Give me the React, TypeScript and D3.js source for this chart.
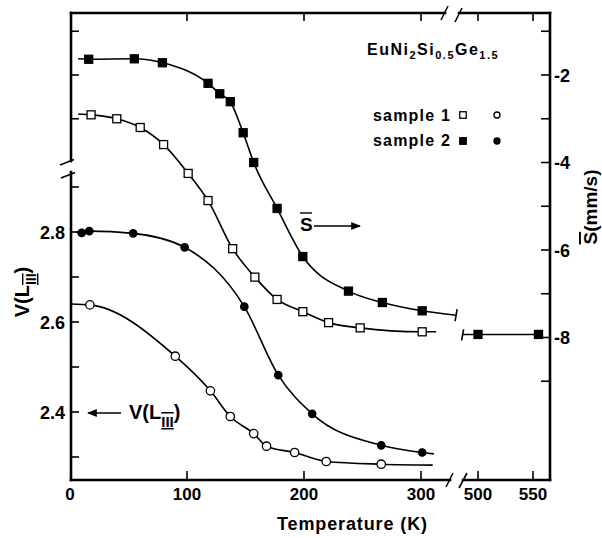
import * as d3 from 'd3';

const W = 602;
const H = 538;
const FONT = '"Liberation Sans", Arial, Helvetica, sans-serif';

// axis ticks and labels
const tempTicksLow = [0, 100, 200, 300];
const tempTicksHigh = [500, 550];
const vTicks = [2.3, 2.4, 2.5, 2.6, 2.7, 2.8, 2.9];
const vLabels = [2.4, 2.6, 2.8];
const sTicks = [-1, -2, -3, -4, -5, -6, -7, -8, -9];
const sLabels = [-2, -4, -6, -8];
const sTicksLeftUpper = [-1, -2, -3];

// sample 2, isomer shift S (filled squares)
const s2STemp = [16, 55, 79, 118, 128, 137, 148, 157, 177, 199, 238, 267, 301];
const s2SVal = [-1.64, -1.63, -1.72, -2.19, -2.43, -2.61, -3.32, -4.0, -5.05, -6.15, -6.94, -7.2, -7.39];
const s2STempHigh = [500, 555];
const s2SValHigh = [-7.93, -7.93];

// sample 1, isomer shift S (open squares)
const s1STemp = [18, 40, 60, 80, 101, 118, 139, 158, 177, 199, 221, 248, 301];
const s1SVal = [-2.91, -3.0, -3.2, -3.59, -4.25, -4.87, -5.97, -6.62, -7.13, -7.41, -7.66, -7.78, -7.87];

// sample 2, valence V(L_III) (filled circles)
const s2VTemp = [10, 16.5, 54, 98, 149, 178, 207, 266, 301];
const s2VVal = [2.798, 2.802, 2.797, 2.766, 2.634, 2.482, 2.396, 2.326, 2.31];

// sample 1, valence V(L_III) (open circles)
const s1VTemp = [17, 90, 120, 137, 157, 168, 192, 219, 266];
const s1VVal = [2.638, 2.524, 2.447, 2.39, 2.352, 2.324, 2.31, 2.29, 2.284];

// where the drawn guide curves begin and end [T, value]
const s2SCurveEnds = [[7, -1.63], [330, -7.49]];
const s1SCurveEnds = [[7, -2.89], [313, -7.87]];
const s2VCurveEnds = [[5, 2.8], [311, 2.307]];
const s1VCurveEnds = [[1, 2.64], [310, 2.282]];
const s2SHighLine = [[486, -7.93], [557, -7.93]];

const L = 71;
const R = 550;
const T = 13;
const B = 480;

const xLow = d3.scaleLinear().domain([0, 300]).range([70, 421]);
const xHigh = d3.scaleLinear().domain([500, 550]).range([478, 533]);
const yV = d3.scaleLinear().domain([2.3, 2.8]).range([457, 232]);
const yS = d3.scaleLinear().domain([-2, -8]).range([75, 337.5]);

const xT = (t: number) => (t >= 450 ? xHigh(t) : xLow(t));

const zip = (a: number[], b: number[]) => a.map((t, i) => [t, b[i]] as [number, number]);

function curvePath(pts: [number, number][], ends: number[][], y: (v: number) => number) {
  const all = [ends[0] as [number, number], ...pts, ends[1] as [number, number]];
  return d3
    .line<[number, number]>()
    .x((d) => xT(d[0]))
    .y((d) => y(d[1]))
    .curve(d3.curveMonotoneX)(all) || '';
}

const Square = ({ x, y, s, filled }: { x: number; y: number; s: number; filled: boolean }) => (
  <rect
    x={x - s / 2}
    y={y - s / 2}
    width={s}
    height={s}
    fill={filled ? '#000' : '#fff'}
    stroke="#000"
    strokeWidth={1.3}
  />
);

const Circle = ({ x, y, r, filled }: { x: number; y: number; r: number; filled: boolean }) => (
  <circle cx={x} cy={y} r={r} fill={filled ? '#000' : '#fff'} stroke="#000" strokeWidth={1.3} />
);

export default function App() {
  const s2S = zip(s2STemp, s2SVal);
  const s1S = zip(s1STemp, s1SVal);
  const s2V = zip(s2VTemp, s2VVal);
  const s1V = zip(s1VTemp, s1VVal);
  const s2SHigh = zip(s2STempHigh, s2SValHigh);

  const breakLowEnd = 450;
  const breakHighStart = 463;
  const axisW = 2.6;

  const endLow = s2SCurveEnds[1];
  const endLowX = xT(endLow[0]);
  const endLowY = yS(endLow[1]);
  const startHighX = xT(s2SHighLine[0][0]);
  const startHighY = yS(s2SHighLine[0][1]);

  return (
    <div style={{ position: 'absolute', left: 0, top: 0 }}>
      <svg width={W} height={H} viewBox={`0 0 ${W} ${H}`} style={{ display: 'block', background: '#fff' }}>
        <defs>
          <marker id="arrowHead" viewBox="0 0 10 10" refX="9" refY="5" markerWidth="7" markerHeight="7" orient="auto-start-reverse">
            <path d="M0,1 L10,5 L0,9 z" fill="#000" />
          </marker>
        </defs>
        <rect width={W} height={H} fill="#fff" />

        {/* frame */}
        <g stroke="#000" strokeWidth={axisW} fill="none" strokeLinecap="square">
          <line x1={L} y1={T} x2={L} y2={161} />
          <line x1={L} y1={172} x2={L} y2={B} />
          <line x1={L} y1={B} x2={breakLowEnd} y2={B} />
          <line x1={breakHighStart} y1={B} x2={R} y2={B} />
          <line x1={L} y1={T} x2={445} y2={T} />
          <line x1={459} y1={T} x2={R} y2={T} />
          <line x1={R} y1={T} x2={R} y2={B} />
        </g>

        {/* break marks */}
        <g stroke="#000" strokeWidth={1.6}>
          <line x1={60} y1={165} x2={74} y2={159.5} />
          <line x1={61} y1={178} x2={75} y2={172.5} />
          <line x1={446} y1={487} x2={453} y2={473} />
          <line x1={459} y1={488} x2={467} y2={473} />
          <line x1={441} y1={20} x2={448} y2={6} />
          <line x1={455} y1={22} x2={462} y2={8} />
        </g>

        {/* ticks */}
        <g stroke="#000" strokeWidth={1.6}>
          {tempTicksLow.filter((t) => t > 0).map((t) => (
            <g key={`tl${t}`}>
              <line x1={xLow(t)} y1={B} x2={xLow(t)} y2={B - 9} />
              <line x1={xLow(t)} y1={T} x2={xLow(t)} y2={T + 8} />
            </g>
          ))}
          {tempTicksHigh.map((t) => (
            <g key={`th${t}`}>
              <line x1={xHigh(t)} y1={B} x2={xHigh(t)} y2={B - 9} />
              <line x1={xHigh(t)} y1={T} x2={xHigh(t)} y2={T + 8} />
            </g>
          ))}
          {vTicks.map((v) => (
            <line key={`v${v}`} x1={L} y1={yV(v)} x2={L + 8} y2={yV(v)} />
          ))}
          {sTicksLeftUpper.map((s) => (
            <line key={`su${s}`} x1={L} y1={yS(s)} x2={L + 8} y2={yS(s)} />
          ))}
          {sTicks.map((s) => (
            <line key={`s${s}`} x1={R} y1={yS(s)} x2={R - 9} y2={yS(s)} />
          ))}
        </g>

        {/* tick labels */}
        <g fontFamily={FONT} fontWeight="bold" fill="#000">
          {tempTicksLow.map((t) => (
            <text key={`lt${t}`} x={xLow(t)} y={500} fontSize={17} textAnchor="middle">
              {t}
            </text>
          ))}
          {tempTicksHigh.map((t) => (
            <text key={`lh${t}`} x={xHigh(t)} y={500} fontSize={17} textAnchor="middle">
              {t}
            </text>
          ))}
          {vLabels.map((v) => (
            <text key={`lv${v}`} x={65} y={yV(v) + 6.5} fontSize={18} textAnchor="end">
              {v.toFixed(1)}
            </text>
          ))}
          {sLabels.map((s) => (
            <text key={`ls${s}`} x={554} y={yS(s) + 6.5} fontSize={18}>
              {`-${Math.abs(s)}`}
            </text>
          ))}
        </g>

        {/* curves */}
        <g fill="none" stroke="#000" strokeWidth={1.6}>
          <path d={curvePath(s2S, s2SCurveEnds, yS)} />
          <path d={curvePath(s1S, s1SCurveEnds, yS)} />
          <path d={curvePath(s2V, s2VCurveEnds, yV)} />
          <path d={curvePath(s1V, s1VCurveEnds, yV)} />
          <line x1={startHighX} y1={startHighY} x2={xT(s2SHighLine[1][0])} y2={yS(s2SHighLine[1][1])} />
          <line x1={endLowX + 1} y1={endLowY - 6} x2={endLowX - 1} y2={endLowY + 6} />
          <line x1={startHighX + 1} y1={startHighY - 5} x2={startHighX - 1} y2={startHighY + 6} />
        </g>

        {/* points */}
        {s1V.map((d, i) => (
          <Circle key={`c1${i}`} x={xT(d[0])} y={yV(d[1])} r={4.2} filled={false} />
        ))}
        {s2V.map((d, i) => (
          <Circle key={`c2${i}`} x={xT(d[0])} y={yV(d[1])} r={3.7} filled />
        ))}
        {s1S.map((d, i) => (
          <Square key={`q1${i}`} x={xT(d[0])} y={yS(d[1])} s={8} filled={false} />
        ))}
        {[...s2S, ...s2SHigh].map((d, i) => (
          <Square key={`q2${i}`} x={xT(d[0])} y={yS(d[1])} s={8} filled />
        ))}

        {/* title and legend */}
        <g fontFamily={FONT} fontWeight="bold" fill="#000">
          <text x={367} y={55} fontSize={16} letterSpacing={1.5}>
            EuNi
            <tspan dy={4} fontSize={11}>2</tspan>
            <tspan dy={-4}>Si</tspan>
            <tspan dy={4} fontSize={11}>0.5</tspan>
            <tspan dy={-4}>Ge</tspan>
            <tspan dy={4} fontSize={11}>1.5</tspan>
          </text>
          <text x={373} y={121} fontSize={16} letterSpacing={1.2}>sample 1</text>
          <text x={373} y={146} fontSize={16} letterSpacing={1.2}>sample 2</text>
        </g>
        <Square x={463} y={115} s={6.5} filled={false} />
        <Circle x={497} y={115} r={3} filled={false} />
        <Square x={463} y={141} s={6.5} filled />
        <Circle x={497} y={141} r={3} filled />

        {/* S-bar arrow */}
        <g fontFamily={FONT} fontWeight="bold" fill="#000">
          <text x={300} y={231} fontSize={19}>S</text>
          <line x1={300} y1={213} x2={312} y2={213} stroke="#000" strokeWidth={1.4} />
          <line x1={314} y1={226} x2={360} y2={226} stroke="#000" strokeWidth={1.4} markerEnd="url(#arrowHead)" />
        </g>

        {/* V(L_III) arrow */}
        <g fontFamily={FONT} fontWeight="bold" fill="#000">
          <line x1={121} y1={413} x2={88} y2={413} stroke="#000" strokeWidth={1.4} markerEnd="url(#arrowHead)" />
          <text x={129} y={419} fontSize={20}>
            V(L
            <tspan dy={8} fontSize={15} style={{ textDecoration: 'underline overline' }}>III</tspan>
            <tspan dy={-8}>)</tspan>
          </text>
        </g>

        {/* axis titles */}
        <g fontFamily={FONT} fontWeight="bold" fill="#000">
          <text transform="translate(29,292) rotate(-90)" fontSize={20} textAnchor="middle">
            V(L
            <tspan dy={7} fontSize={14} style={{ textDecoration: 'underline overline' }}>III</tspan>
            <tspan dy={-7}>)</tspan>
          </text>
          <text transform="translate(597,207) rotate(-90)" fontSize={19} textAnchor="middle">
            <tspan style={{ textDecoration: 'overline' }}>S</tspan>(mm/s)
          </text>
          <text x={277} y={530} fontSize={18} textLength={150} lengthAdjust="spacing">
            Temperature (K)
          </text>
        </g>
      </svg>
    </div>
  );
}
